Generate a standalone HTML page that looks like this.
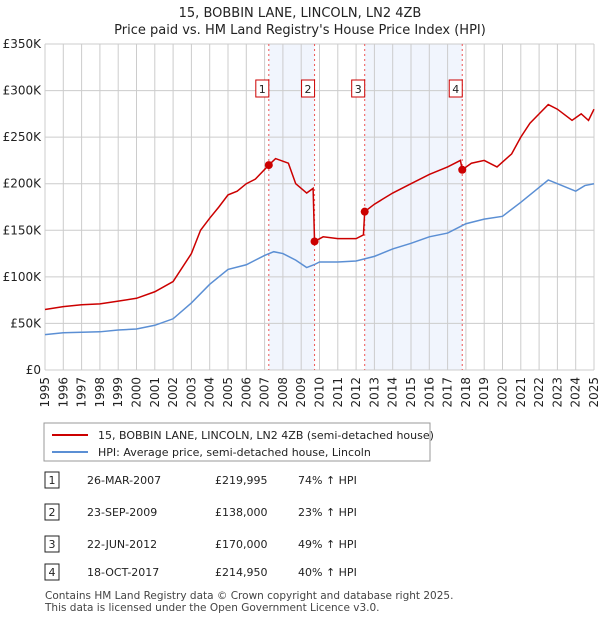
<!DOCTYPE html>
<html><head><meta charset="utf-8"><style>
body{margin:0;background:#fff;font-family:"Liberation Sans","DejaVu Sans",sans-serif;}
svg text{font-family:"DejaVu Sans","Liberation Sans",sans-serif;}
</style></head><body>
<svg width="600" height="620" xmlns="http://www.w3.org/2000/svg">
<text x="300" y="17" text-anchor="middle" font-size="13" fill="#222">15, BOBBIN LANE, LINCOLN, LN2 4ZB</text>
<text x="300" y="34" text-anchor="middle" font-size="13" fill="#222">Price paid vs. HM Land Registry's House Price Index (HPI)</text>
<g id="plot"></g>
<g id="legend">
<rect x="44" y="423" width="386" height="38" fill="#fff" stroke="#999"/>
<line x1="52" y1="435" x2="88" y2="435" stroke="#cc0000" stroke-width="2"/>
<text x="98" y="439" font-size="11" fill="#222">15, BOBBIN LANE, LINCOLN, LN2 4ZB (semi-detached house)</text>
<line x1="52" y1="452" x2="88" y2="452" stroke="#5b8fd4" stroke-width="2"/>
<text x="98" y="456" font-size="11" fill="#222">HPI: Average price, semi-detached house, Lincoln</text>
</g>
<g id="table" font-size="11" fill="#222"></g>
<text x="45" y="599" font-size="10.5" fill="#444">Contains HM Land Registry data © Crown copyright and database right 2025.</text>
<text x="45" y="611" font-size="10.5" fill="#444">This data is licensed under the Open Government Licence v3.0.</text>
</svg>
<script>
const hpiYears=[1995,1996,1997,1998,1999,2000,2001,2002,2003,2004,2005,2006,2007,2007.5,2008,2008.7,2009.3,2009.7,2010,2011,2012,2013,2014,2015,2016,2017,2018,2019,2020,2021,2022,2022.5,2023,2024,2024.5,2025];
const hpiValues=[38,40,40.5,41,43,44,48,55,72,92,108,113,123,127,125,118,110,113,116,116,117,122,130,136,143,147,157,162,165,180,196,204,200,192,198,200];
const redYears=[1995,1996,1997,1998,1999,2000,2001,2002,2003,2003.5,2004,2004.5,2005,2005.5,2006,2006.5,2007.23,2007.6,2008.3,2008.7,2009.3,2009.65,2009.73,2010.2,2011,2012,2012.4,2012.47,2013,2014,2015,2016,2017,2017.7,2017.8,2018.3,2019,2019.7,2020.5,2021,2021.5,2022,2022.5,2023,2023.8,2024.3,2024.7,2025];
const redValues=[65,68,70,71,74,77,84,95,125,150,163,175,188,192,200,205,220,227,222,200,190,195,138,143,141,141,145,170,178,190,200,210,218,225,215,222,225,218,232,250,265,275,285,280,268,275,268,280];
const saleYears=[2007.23,2009.73,2012.47,2017.8];
const saleValues=[220,138,170,214.95];
const saleLabels=["1","2","3","4"];
const saleDates=["26-MAR-2007","23-SEP-2009","22-JUN-2012","18-OCT-2017"];
const salePrices=["£219,995","£138,000","£170,000","£214,950"];
const saleHpi=["74% ↑ HPI","23% ↑ HPI","49% ↑ HPI","40% ↑ HPI"];
const yTicks=[0,50,100,150,200,250,300,350];
const yTickLabels=["£0","£50K","£100K","£150K","£200K","£250K","£300K","£350K"];
const x0=45,x1=594,y0=370,y1=44;
const X=y=>x0+(y-1995)/30*(x1-x0);
const Y=v=>y0-v/350*(y0-y1);
const NS="http://www.w3.org/2000/svg";
const plot=document.getElementById('plot');
function mk(t,a,p){const e=document.createElementNS(NS,t);for(const k in a)e.setAttribute(k,a[k]);(p||plot).appendChild(e);return e;}
for(let i=0;i<4;i+=2){const r=mk('rect',{x:X(saleYears[i]),y:y1,width:X(saleYears[i+1])-X(saleYears[i]),height:y0-y1,fill:'#eef3fd',opacity:0.8});

}
for(let yr=1995;yr<=2025;yr++){const l=mk('line',{x1:X(yr),x2:X(yr),y1:y1,y2:y0,stroke:'#ccc','stroke-width':1});


const t=mk('text',{x:0,y:0,'font-size':12,fill:'#222','text-anchor':'end',transform:`translate(${X(yr)+4},${y0+7}) rotate(-90)`});
t.textContent=yr;

}
yTicks.forEach((v,i)=>{const l=mk('line',{x1:x0,x2:x1,y1:Y(v),y2:Y(v),stroke:'#ccc','stroke-width':1});


const t=mk('text',{x:x0-4,y:Y(v)+4,'font-size':12,fill:'#222','text-anchor':'end'});
t.textContent=yTickLabels[i];

});
saleYears.forEach((s,i)=>{const l=mk('line',{x1:X(s),x2:X(s),y1:y1,y2:y0,stroke:'#e55','stroke-width':1,'stroke-dasharray':'2,3'});


const r=mk('rect',{x:X(s)-13,y:80,width:13,height:17,fill:'#fff',stroke:'#cc0000'});


const t=mk('text',{x:X(s)-6.5,y:93,'font-size':11,fill:'#222','text-anchor':'middle'});
t.textContent=saleLabels[i];

});
const hp=mk('polyline',{points:hpiYears.map((y,i)=>X(y)+','+Y(hpiValues[i])).join(' '),fill:'none',stroke:'#5b8fd4','stroke-width':1.5});


const rp=mk('polyline',{points:redYears.map((y,i)=>X(y)+','+Y(redValues[i])).join(' '),fill:'none',stroke:'#cc0000','stroke-width':1.5});


saleYears.forEach((s,i)=>{const c=mk('circle',{cx:X(s),cy:Y(saleValues[i]),r:4,fill:'#cc0000'});

});
const tb=document.getElementById('table');
const rowY=[483,515,547,575];
saleLabels.forEach((l,i)=>{const y=rowY[i];
const r=mk('rect',{x:45,y:y-11,width:14,height:16,fill:'#fff',stroke:'#222'},tb);


const cols=[[52,l,'middle'],[87,saleDates[i],'start'],[215,salePrices[i],'start'],[298,saleHpi[i],'start']];
cols.forEach(c=>{const t=mk('text',{x:c[0],y:y+1,'text-anchor':c[2]},tb);t.textContent=c[1];

});});
</script>
</body></html>
